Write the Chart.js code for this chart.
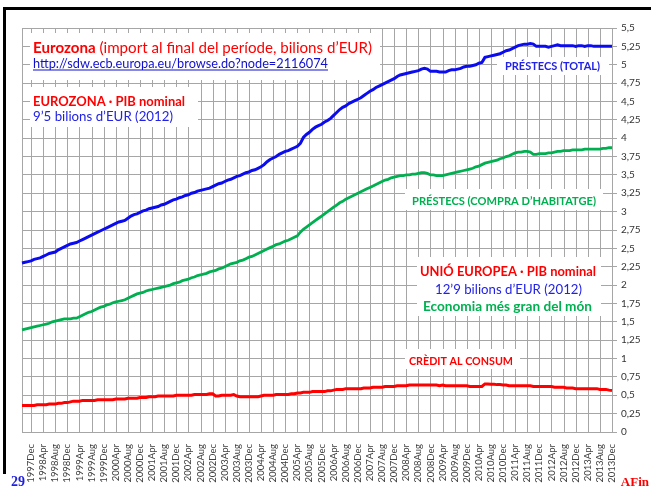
<!DOCTYPE html>
<html>
<head>
<meta charset="utf-8">
<script src="https://cdn.jsdelivr.net/npm/chart.js@4.4.0/dist/chart.umd.min.js"></script>
<style>
  body { margin: 0; background: #fff; }
  canvas { display: block; }
</style>
</head>
<body>
<canvas id="chart" width="651" height="488"></canvas>
<script>
  // monthly categories, 1997Sep .. 2013Dec
  var monthNames = ['Jan','Feb','Mar','Apr','May','Jun','Jul','Aug','Sep','Oct','Nov','Dec'];
  var months = [];
  for (var y = 1997; y <= 2013; y++) {
    for (var m = 0; m < 12; m++) {
      if (y === 1997 && m < 8) continue;
      months.push(y + monthNames[m]);
    }
  }

  // bilions d'EUR
  var loansTotal = [
    2.30, 2.31, 2.32, 2.33,
    2.35, 2.36, 2.37, 2.39, 2.41, 2.43, 2.44, 2.45, 2.48, 2.50, 2.52, 2.54,
    2.56, 2.57, 2.58, 2.60, 2.62, 2.64, 2.66, 2.68, 2.70, 2.72, 2.74, 2.76,
    2.78, 2.80, 2.82, 2.84, 2.86, 2.87, 2.88, 2.91, 2.94, 2.96, 2.97, 2.99,
    3.01, 3.02, 3.04, 3.05, 3.06, 3.07, 3.09, 3.10, 3.12, 3.14, 3.16, 3.17,
    3.19, 3.20, 3.22, 3.23, 3.25, 3.26, 3.28, 3.29, 3.30, 3.31, 3.32, 3.34,
    3.36, 3.38, 3.39, 3.41, 3.43, 3.44, 3.46, 3.48, 3.49, 3.51, 3.53, 3.54,
    3.56, 3.57, 3.59, 3.61, 3.64, 3.68, 3.71, 3.73, 3.75, 3.78, 3.80, 3.82,
    3.83, 3.85, 3.87, 3.89, 3.93, 4.01, 4.05, 4.08, 4.12, 4.15, 4.17, 4.19,
    4.22, 4.24, 4.27, 4.31, 4.35, 4.39, 4.42, 4.44, 4.47, 4.49, 4.51, 4.53,
    4.55, 4.58, 4.61, 4.64, 4.66, 4.69, 4.71, 4.73, 4.75, 4.77, 4.79, 4.81,
    4.84, 4.86, 4.87, 4.88, 4.89, 4.90, 4.91, 4.92, 4.94, 4.95, 4.94, 4.91,
    4.91, 4.91, 4.90, 4.90, 4.90, 4.92, 4.93, 4.93, 4.94, 4.95, 4.97, 4.98,
    4.98, 4.99, 5.00, 5.02, 5.03, 5.10, 5.11, 5.12, 5.13, 5.14, 5.15, 5.17,
    5.19, 5.20, 5.22, 5.24, 5.26, 5.27, 5.28, 5.28, 5.29, 5.28, 5.25, 5.25,
    5.25, 5.25, 5.24, 5.25, 5.26, 5.27, 5.26, 5.26, 5.26, 5.26, 5.26, 5.25,
    5.26, 5.26, 5.25, 5.26, 5.26, 5.25, 5.25, 5.25, 5.25, 5.25, 5.25, 5.25
  ];

  var loansHousing = [
    1.39, 1.40, 1.41, 1.42,
    1.43, 1.44, 1.45, 1.46, 1.47, 1.48, 1.50, 1.51, 1.52, 1.53, 1.54, 1.54,
    1.54, 1.55, 1.55, 1.57, 1.59, 1.61, 1.63, 1.64, 1.66, 1.68, 1.70, 1.71,
    1.73, 1.74, 1.76, 1.77, 1.78, 1.79, 1.80, 1.82, 1.84, 1.86, 1.88, 1.89,
    1.90, 1.92, 1.93, 1.94, 1.95, 1.96, 1.97, 1.98, 1.99, 2.00, 2.02, 2.03,
    2.04, 2.06, 2.07, 2.08, 2.10, 2.11, 2.13, 2.14, 2.15, 2.16, 2.18, 2.19,
    2.20, 2.22, 2.23, 2.25, 2.27, 2.29, 2.30, 2.31, 2.33, 2.34, 2.36, 2.38,
    2.39, 2.41, 2.43, 2.45, 2.47, 2.49, 2.51, 2.53, 2.55, 2.56, 2.58, 2.60,
    2.61, 2.63, 2.65, 2.67, 2.72, 2.76, 2.79, 2.82, 2.85, 2.88, 2.91, 2.94,
    2.97, 3.00, 3.03, 3.06, 3.09, 3.12, 3.14, 3.17, 3.19, 3.21, 3.23, 3.25,
    3.27, 3.29, 3.31, 3.33, 3.35, 3.37, 3.39, 3.41, 3.43, 3.44, 3.46, 3.47,
    3.48, 3.49, 3.49, 3.50, 3.50, 3.51, 3.51, 3.52, 3.53, 3.53, 3.52, 3.50,
    3.50, 3.49, 3.49, 3.49, 3.50, 3.51, 3.52, 3.53, 3.54, 3.55, 3.56, 3.57,
    3.58, 3.59, 3.61, 3.62, 3.64, 3.66, 3.67, 3.68, 3.69, 3.70, 3.72, 3.73,
    3.75, 3.76, 3.78, 3.80, 3.81, 3.81, 3.82, 3.82, 3.81, 3.78, 3.78, 3.79,
    3.79, 3.79, 3.80, 3.80, 3.81, 3.82, 3.82, 3.83, 3.83, 3.83, 3.84, 3.84,
    3.84, 3.84, 3.85, 3.85, 3.85, 3.85, 3.85, 3.85, 3.86, 3.86, 3.87, 3.87
  ];

  var consumerCredit = [
    0.36, 0.36, 0.36, 0.36,
    0.36, 0.37, 0.37, 0.37, 0.37, 0.38, 0.38, 0.38, 0.39, 0.39, 0.40, 0.40,
    0.41, 0.42, 0.42, 0.42, 0.43, 0.43, 0.43, 0.43, 0.43, 0.44, 0.44, 0.44,
    0.44, 0.44, 0.44, 0.45, 0.45, 0.45, 0.45, 0.46, 0.46, 0.46, 0.46, 0.47,
    0.47, 0.47, 0.48, 0.48, 0.48, 0.49, 0.49, 0.49, 0.49, 0.49, 0.49, 0.50,
    0.50, 0.50, 0.50, 0.50, 0.50, 0.51, 0.51, 0.51, 0.51, 0.51, 0.52, 0.52,
    0.49, 0.49, 0.50, 0.50, 0.50, 0.50, 0.51, 0.49, 0.48, 0.48, 0.48, 0.48,
    0.48, 0.48, 0.48, 0.49, 0.50, 0.50, 0.50, 0.50, 0.51, 0.51, 0.51, 0.51,
    0.51, 0.52, 0.52, 0.53, 0.53, 0.54, 0.54, 0.54, 0.55, 0.55, 0.55, 0.55,
    0.55, 0.56, 0.56, 0.57, 0.58, 0.58, 0.58, 0.59, 0.59, 0.59, 0.59, 0.59,
    0.59, 0.60, 0.60, 0.60, 0.61, 0.61, 0.61, 0.61, 0.62, 0.62, 0.62, 0.62,
    0.63, 0.63, 0.63, 0.63, 0.64, 0.64, 0.64, 0.64, 0.64, 0.64, 0.64, 0.64,
    0.64, 0.64, 0.63, 0.64, 0.63, 0.63, 0.63, 0.63, 0.63, 0.63, 0.63, 0.63,
    0.62, 0.62, 0.62, 0.62, 0.62, 0.655, 0.655, 0.65, 0.65, 0.645, 0.645, 0.64,
    0.64, 0.63, 0.63, 0.63, 0.63, 0.63, 0.63, 0.63, 0.63, 0.62, 0.62, 0.62,
    0.62, 0.62, 0.62, 0.62, 0.61, 0.61, 0.61, 0.61, 0.60, 0.60, 0.60, 0.59,
    0.59, 0.59, 0.59, 0.59, 0.59, 0.59, 0.59, 0.58, 0.58, 0.58, 0.57, 0.565
  ];

  var gridColor = '#a6a6a6';
  var isLabelTick = function(i) { return (i - 3) % 4 === 0; };

  // draws a run of text pieces squeezed to a given width
  function drawParts(ctx, parts, x, y, w) {
    var total = 0;
    parts.forEach(function(p) { ctx.font = p[1]; total += ctx.measureText(p[0]).width; });
    ctx.save();
    ctx.translate(x, y);
    ctx.scale(w / total, 1);
    var cx = 0;
    parts.forEach(function(p) {
      ctx.font = p[1];
      ctx.fillStyle = p[2];
      ctx.fillText(p[0], cx, 0);
      cx += ctx.measureText(p[0]).width;
    });
    ctx.restore();
  }

  var RED = '#ff0000', BLUE = '#2222e6', GREEN = '#00b050';
  var F = '"Lato", "Open Sans", sans-serif';

  var notes = {
    id: 'notes',
    beforeDraw: function(chart) {
      var ctx = chart.ctx;
      ctx.save();
      ctx.fillStyle = '#fff';
      ctx.fillRect(0, 0, chart.width, chart.height);
      ctx.restore();
    },
    beforeDatasetsDraw: function(chart) {
      var ctx = chart.ctx;
      var area = chart.chartArea;
      var xs = chart.scales.x;
      ctx.save();

      // vertical grid: plot edge + every labelled month
      ctx.strokeStyle = gridColor;
      ctx.lineWidth = 1;
      ctx.beginPath();
      for (var i = 0; i < months.length; i++) {
        if (i !== 0 && !isLabelTick(i)) continue;
        var px = Math.round(xs.getPixelForValue(i)) + 0.5;
        ctx.moveTo(px, area.top);
        ctx.lineTo(px, area.bottom);
      }
      ctx.stroke();

      ctx.textBaseline = 'alphabetic';
      ctx.fillStyle = '#fff';
      ctx.fillRect(30, 33, 350, 47);
      ctx.fillRect(30, 87, 168, 40);
      ctx.fillRect(497, 57, 112, 18);
      ctx.fillRect(405, 189, 198, 21);
      ctx.fillRect(417, 257, 184, 59);
      ctx.fillRect(405, 349, 115, 20);

      drawParts(ctx, [['Eurozona', 'bold 15px ' + F, RED],
                      [' (import al final del període, bilions d’EUR)', '15px ' + F, RED]], 33, 52.5, 339);
      drawParts(ctx, [['http://sdw.ecb.europa.eu/browse.do?node=2116074', '13px ' + F, '#1010cc']], 33, 68, 295);
      ctx.fillStyle = '#1010cc';
      ctx.fillRect(33, 69.5, 295, 1);

      drawParts(ctx, [['EUROZONA · PIB nominal', 'bold 13px ' + F, RED]], 33, 106, 152);
      drawParts(ctx, [['9’5 bilions d’EUR (2012)', '13px ' + F, BLUE]], 33, 120.5, 140);

      drawParts(ctx, [['PRÉSTECS (TOTAL)', 'bold 11.5px ' + F, BLUE]], 505, 70, 95);
      drawParts(ctx, [['PRÉSTECS (COMPRA D’HABITATGE)', 'bold 11.5px ' + F, GREEN]], 412, 205, 184);

      drawParts(ctx, [['UNIÓ EUROPEA · PIB nominal', 'bold 13px ' + F, RED]], 420, 276, 176);
      drawParts(ctx, [['12’9 bilions d’EUR (2012)', '13px ' + F, BLUE]], 435, 294, 147);
      drawParts(ctx, [['Economia més gran del món', 'bold 13px ' + F, GREEN]], 423, 311, 169);

      drawParts(ctx, [['CRÈDIT AL CONSUM', 'bold 11.5px ' + F, RED]], 409, 364.5, 104);
      ctx.restore();
    },
    afterDraw: function(chart) {
      var ctx = chart.ctx;
      ctx.save();
      ctx.fillStyle = '#000';
      ctx.fillRect(3, 7, 648, 3);
      ctx.fillRect(3, 7, 3, 467);
      ctx.font = 'bold 14px "Liberation Serif", serif';
      ctx.fillStyle = '#1f1fdf';
      ctx.fillText('29', 11, 486);
      ctx.font = 'bold 13px "Liberation Serif", serif';
      ctx.fillStyle = RED;
      ctx.textAlign = 'right';
      ctx.fillText('AFin', 649, 486);
      ctx.restore();
    }
  };

  var ctx = document.getElementById('chart').getContext('2d');
  var myChart = new Chart(ctx, {
    type: 'line',
    data: {
      labels: months,
      datasets: [
        { data: loansTotal, borderColor: '#0b0bf0', borderWidth: 3 },
        { data: loansHousing, borderColor: GREEN, borderWidth: 2.8 },
        { data: consumerCredit, borderColor: RED, borderWidth: 3 }
      ]
    },
    options: {
      responsive: false,
      animation: false,
      devicePixelRatio: 1,
      layout: { padding: { left: 22, top: 28, right: 0, bottom: 0 } },
      elements: { point: { radius: 0 }, line: { tension: 0, fill: false } },
      plugins: {
        legend: { display: false },
        tooltip: { enabled: false }
      },
      scales: {
        x: {
          offset: false,
          afterFit: function(scale) { scale.height = 56; },
          grid: { display: false },
          border: { display: true, color: gridColor },
          ticks: {
            autoSkip: false,
            minRotation: 90,
            maxRotation: 90,
            padding: 4,
            color: '#404040',
            font: { family: F, size: 9.5 },
            callback: function(v, i) { return isLabelTick(i) ? months[i] : ''; }
          }
        },
        y: {
          position: 'right',
          min: 0,
          max: 5.5,
          afterFit: function(scale) { scale.width = 39; },
          grid: { color: gridColor, tickLength: 5 },
          border: { color: gridColor },
          ticks: {
            stepSize: 0.25,
            padding: 4,
            color: '#333',
            font: { family: F, size: 10 },
            callback: function(v) { return String(v).replace('.', ','); }
          }
        }
      }
    },
    plugins: [notes]
  });
</script>
</body>
</html>
